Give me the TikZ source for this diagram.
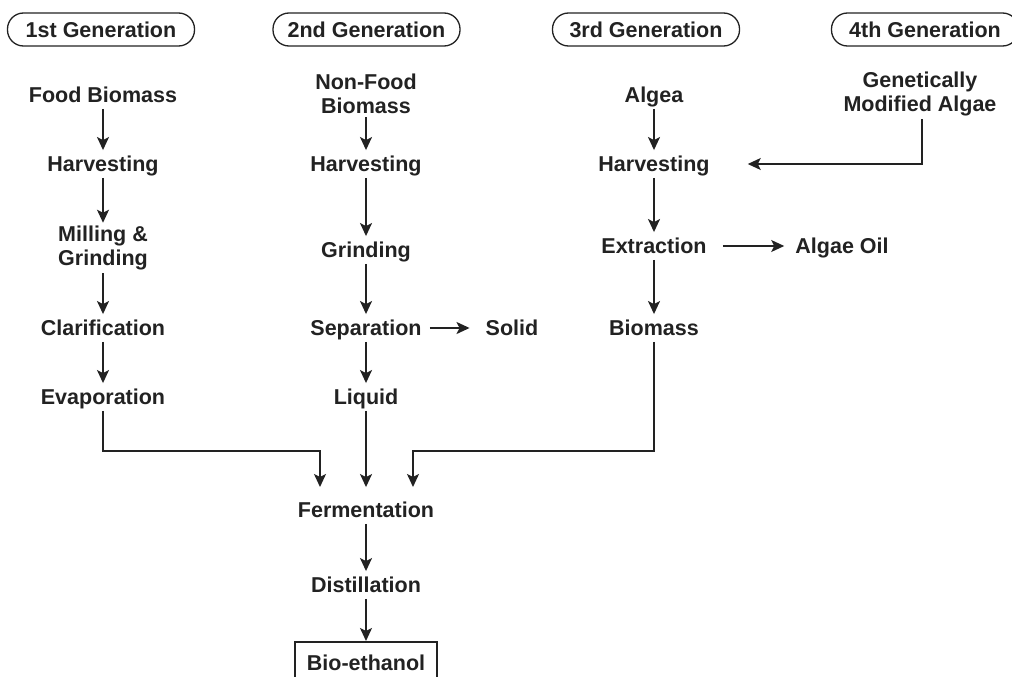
\documentclass[tikz,border=0pt]{standalone}
\usepackage{fontspec}
\setmainfont{Liberation Sans}
\usetikzlibrary{arrows.meta,calc}
\definecolor{ink}{HTML}{222222}
\tikzset{
  txt/.style={font=\bfseries\fontsize{21.5}{24}\selectfont, text=ink, inner xsep=8pt, inner ysep=6pt, text height=15.5pt, text depth=0pt},
  txttwo/.style={font=\bfseries\fontsize{21.5}{24}\selectfont, text=ink, align=center, inner xsep=8pt, inner ysep=3pt},
  gen/.style={draw=ink, line width=1.3pt, rounded corners=16pt, minimum width=187pt, minimum height=33pt, font=\bfseries\fontsize{21.5}{24}\selectfont, text=ink, text height=15.5pt, text depth=0pt, inner sep=0pt},
  arr/.style={draw=ink, line width=1.5pt, -{Stealth[length=13pt,width=12pt,inset=3pt]}},
  line/.style={draw=ink, line width=1.5pt},
}
\begin{document}
\begin{tikzpicture}[x=1pt,y=-1pt]
\useasboundingbox (0,0) rectangle (1012,677);
\clip (0,0) rectangle (1012,677);
\fill[white] (0,0) rectangle (1012,677);
% headers
\node[gen] (g1) at (101,29.5) {1st Generation};
\node[gen] (g2) at (366.5,29.5) {2nd Generation};
\node[gen] (g3) at (646,29.5) {3rd Generation};
\node[gen] (g4) at (925,29.5) {4th Generation};
% column 1
\node[txt] (fb) at (103,95) {Food Biomass};
\node[txt] (h1) at (103,164) {Harvesting};
\node[txttwo] (mg) at (103,248) {Milling \&\\Grinding};
\node[txt] (cl) at (103,328) {Clarification};
\node[txt] (ev) at (103,397) {Evaporation};
% column 2
\node[txttwo] (nf) at (366,94) {Non-Food\\Biomass};
\node[txt] (h2) at (366,164) {Harvesting};
\node[txt] (gr) at (366,250) {Grinding};
\node[txt] (sp) at (366,328) {Separation};
\node[txt] (so) at (512,328) {Solid};
\node[txt] (lq) at (366,397) {Liquid};
% column 3
\node[txt] (al) at (654,95) {Algea};
\node[txt] (h3) at (654,164) {Harvesting};
\node[txt] (ex) at (654,246) {Extraction};
\node[txt] (ao) at (842,246) {Algae Oil};
\node[txt] (bm) at (654,328) {Biomass};
% column 4
\node[txttwo] (gm) at (920,94) {Genetically\\Modified Algae};
% bottom
\node[txt] (fe) at (366,510) {Fermentation};
\node[txt] (di) at (366,585) {Distillation};
\node[draw=ink, line width=2pt, minimum width=142pt, minimum height=48pt, inner sep=0pt] (be) at (366,666) {};
\node[txt] (bet) at (366,663) {Bio-ethanol};
% arrows column 1
\draw[arr] (fb) -- (h1);
\draw[arr] (h1) -- (mg);
\draw[arr] (mg) -- (cl);
\draw[arr] (cl) -- (ev);
% column 2
\draw[arr] (nf) -- (h2);
\draw[arr] (h2) -- (gr);
\draw[arr] (gr) -- (sp);
\draw[arr] (sp) -- (lq);
\draw[arr, shorten >=8pt] (sp) -- (so);
% column 3
\draw[arr] (al) -- (h3);
\draw[arr] (h3) -- (ex);
\draw[arr] (ex) -- (bm);
\draw[arr, shorten <=8pt, shorten >=3pt] (ex) -- (ao);
% column 4
\draw[arr, shorten >=30pt] (gm.south -| 922,0) |- (h3.east);
% to fermentation
\coordinate (fl) at (320,487);
\coordinate (fr) at (413,487);
\draw[arr, shorten >=9pt] (lq) -- (fe);
\draw[arr] (ev.south) |- ([yshift=36pt]fl) -- (fl);
\draw[arr] (bm.south) |- ([yshift=36pt]fr) -- (fr);
\draw[arr] (fe) -- (di);
\draw[arr] (di) -- (be.north);
\end{tikzpicture}
\end{document}
